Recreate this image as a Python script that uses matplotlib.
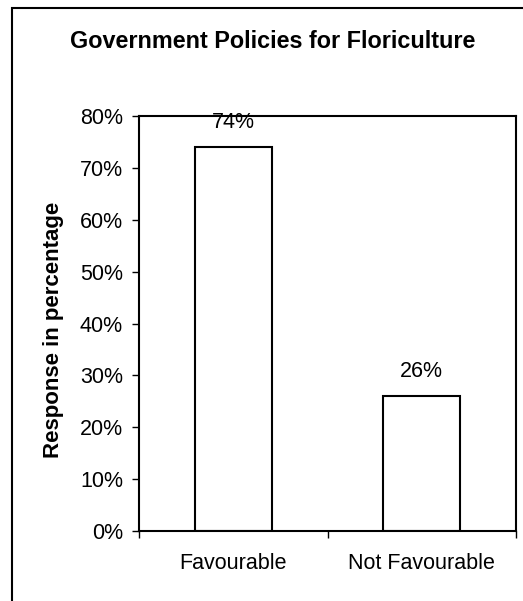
import matplotlib
matplotlib.use("Agg")
import matplotlib.pyplot as plt
from matplotlib.patches import Rectangle
from matplotlib.ticker import FuncFormatter

plt.rcParams['font.family'] = ['Liberation Sans', 'DejaVu Sans']

categories = ["Favourable", "Not Favourable"]
responses = [74, 26]
y_ticks = [0, 10, 20, 30, 40, 50, 60, 70, 80]

W, H = 523, 601
fig = plt.figure(figsize=(W / 100, H / 100), dpi=100)

# plot area in pixel terms: left 139, right 516, top 116, bottom 531
ax = fig.add_axes([139 / W, 1 - 531 / H, (516 - 139) / W, (531 - 116) / H])

x = list(range(len(categories)))
ax.bar(x, responses, width=0.41, color="white", edgecolor="black", linewidth=1.5)
for xi, v in zip(x, responses):
    ax.text(xi, v + 3.6, "%d%%" % v, ha="center", va="baseline", fontsize=15.5)

ax.set_xlim(-0.5, len(categories) - 0.5)
ax.set_ylim(0, 80)
ax.set_yticks(y_ticks)
ax.yaxis.set_major_formatter(FuncFormatter(lambda v, p: "%d%%" % v))
ax.tick_params(axis="y", direction="out", length=5, width=1, labelsize=15.5, pad=6.5)

# category labels sit between boundary ticks
ax.set_xticks([-0.5, 0.5, 1.5])
ax.set_xticklabels([])
ax.set_xticks(x, minor=True)
ax.set_xticklabels(categories, minor=True)
ax.tick_params(axis="x", which="major", direction="out", length=5, width=1)
ax.tick_params(axis="x", which="minor", length=0, labelsize=15.5, pad=16)

for s in ax.spines.values():
    s.set_linewidth(1.5)

ax.set_ylabel("Response in percentage", fontsize=16, fontweight="bold")
ax.yaxis.set_label_coords(-0.199, 0.484)
fig.text(273 / W, 1 - 41 / H, "Government Policies for Floriculture",
         ha="center", va="center", fontsize=16.8, fontweight="bold")

# chart frame
fig.patches.append(Rectangle((12 / W, -0.1), 1.2, 1 - 8 / H + 0.1,
                             transform=fig.transFigure, fill=False,
                             edgecolor="black", linewidth=1.5))

fig.savefig("out.png", dpi=100)
